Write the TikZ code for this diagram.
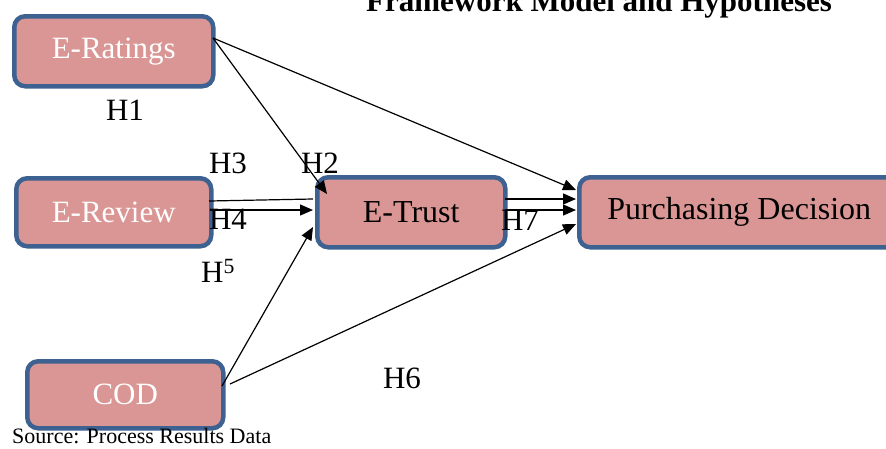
\documentclass[tikz,border=0pt]{standalone}
\usepackage{fontspec}
\setmainfont{Liberation Serif}
\usetikzlibrary{arrows.meta}
\definecolor{boxfill}{HTML}{D99694}
\definecolor{boxline}{HTML}{3D6190}
\begin{document}
\begin{tikzpicture}[x=1pt,y=-1pt,
  box/.style={draw=boxline, line width=4.5pt, fill=boxfill, rounded corners=11pt, inner sep=0pt, anchor=north west},
  lbl/.style={font=\fontsize{31}{31}\selectfont, inner sep=0pt},
  conn/.style={line width=1.2pt},
  arr/.style={conn, -{Triangle[length=13pt,width=11pt]}}]
\useasboundingbox (0,0) rectangle (886,448);
\clip (0,0) rectangle (886,448);
\node[font=\bfseries\fontsize{31}{31}\selectfont, anchor=base] (title) at (599,11) {Framework Model and Hypotheses};
\node[box, minimum width=199pt, minimum height=70pt, text=white, font=\fontsize{31}{31}\selectfont] (er) at (12,14) {E-Ratings};
\node[box, minimum width=195pt, minimum height=68pt, text=white, font=\fontsize{31}{31}\selectfont] (ev) at (14,176) {E-Review};
\node[box, minimum width=188pt, minimum height=70pt, font=\fontsize{32}{32}\selectfont] (et) at (315,175) {E-Trust};
\node[box, minimum width=320pt, minimum height=70pt, font=\fontsize{32}{32}\selectfont] (pd) at (577,175) {Purchasing Decision};
\node[box, minimum width=196pt, minimum height=67pt, text=white, font=\fontsize{31}{31}\selectfont] (cod) at (25,359) {COD};
\node[font=\fontsize{22}{22}\selectfont, anchor=base west, inner sep=0pt] (src) at (12,443) {Source: Process Results Data};
% labels
\node[lbl] (h1) at (125,110) {H1};
\node[lbl] (h3) at (228,163) {H3};
\node[lbl] (h2) at (320,163) {H2};
\node[lbl] (h4) at (228,219) {H4};
\node[lbl] (h5) at (218,271) {H\textsuperscript{5}};
\node[lbl] (h7) at (520,220) {H7};
\node[lbl] (h6) at (402,378) {H6};
% coordinates
\coordinate (erA) at (213,38);
\coordinate (etA) at (327,194);
\coordinate (pdA) at (576,190);
\coordinate (evA) at (209,201);
\coordinate (etB) at (313,199);
\coordinate (evB) at (210,210);
\coordinate (etC) at (313,210);
\coordinate (codA) at (222,386);
\coordinate (etD) at (313,227);
\coordinate (codB) at (230,384);
\coordinate (pdB) at (576,224);
\coordinate (etE) at (505,199);
\coordinate (pdC) at (576,199);
\coordinate (etF) at (505,210);
\coordinate (pdD) at (576,210);
\draw[arr] (erA) -- (pdA);
\draw[arr] (erA) -- (etA);
\draw[conn] (evA) -- (etB);
\draw[arr] (evB) -- (etC);
\draw[arr] (codA) -- (etD);
\draw[arr] (codB) -- (pdB);
\draw[arr] (etE) -- (pdC);
\draw[arr] (etF) -- (pdD);
\end{tikzpicture}
\end{document}
